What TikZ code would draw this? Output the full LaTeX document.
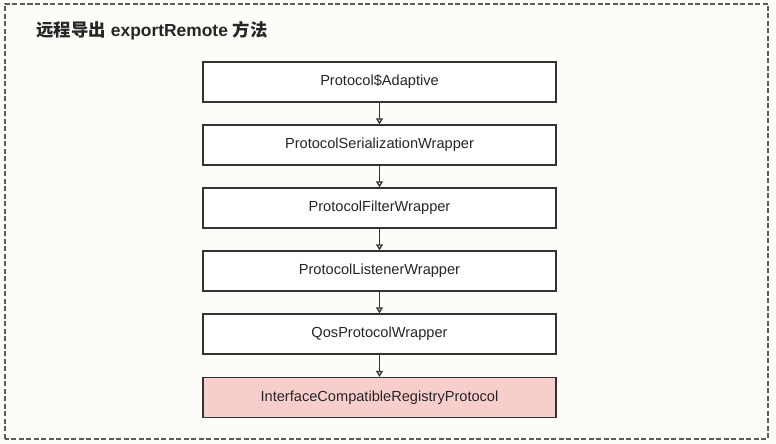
\documentclass[tikz,border=0pt]{standalone}
\usepackage{fontspec}
\setmainfont{Liberation Sans}
\newfontfamily\cjk{Noto Sans CJK SC}
\usetikzlibrary{arrows.meta}
\definecolor{bgc}{HTML}{FCFCF9}
\definecolor{edge}{HTML}{333333}
\definecolor{pinkfill}{HTML}{F8CECC}
\tikzset{
  layerbox/.style={draw=edge, line width=1.3pt, fill=white, minimum width=353pt, minimum height=40pt, inner sep=0pt, font=\fontsize{14.6}{17}\selectfont, text=black!85},
  flowarrow/.style={draw=edge, line width=1.3pt, -{Triangle[open, length=6pt, width=7pt, fill=white]}},
}
\begin{document}
\begin{tikzpicture}[x=1pt,y=1pt]
\useasboundingbox (0,0) rectangle (776,444);
\fill[bgc] (0,0) rectangle (776,444);
\draw[edge!80, line width=1.2pt, dash pattern=on 5pt off 2.5pt] (5,5) rectangle (768,440);
\node[anchor=west, font=\fontsize{17.4}{20}\selectfont\bfseries, text=black!85] (title) at (33,413) {{\cjk\bfseries 远程导出} exportRemote {\cjk\bfseries 方法}};
\node[layerbox] (p1) at (379.5,362) {Protocol\$Adaptive};
\node[layerbox] (p2) at (379.5,299) {ProtocolSerializationWrapper};
\node[layerbox] (p3) at (379.5,236) {ProtocolFilterWrapper};
\node[layerbox] (p4) at (379.5,173) {ProtocolListenerWrapper};
\node[layerbox] (p5) at (379.5,110) {QosProtocolWrapper};
\node[layerbox, fill=pinkfill] (p6) at (379.5,46.5) {InterfaceCompatibleRegistryProtocol};
\draw[flowarrow] (p1) -- (p2);
\draw[flowarrow] (p2) -- (p3);
\draw[flowarrow] (p3) -- (p4);
\draw[flowarrow] (p4) -- (p5);
\draw[flowarrow] (p5) -- (p6);
\end{tikzpicture}
\end{document}
